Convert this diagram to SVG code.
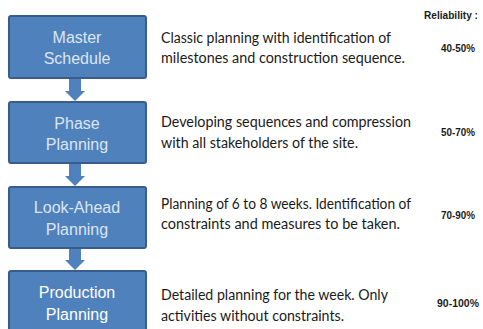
<svg xmlns="http://www.w3.org/2000/svg" width="483" height="329" viewBox="0 0 483 329">
<style>
.box{fill:#4f81bd;stroke:#385d8a;stroke-width:2}
.lbl{font-family:"Liberation Sans",Arial,sans-serif;font-size:16px;fill:#dce6f2;text-anchor:middle}
.lblw{font-family:"Liberation Sans",Arial,sans-serif;font-size:16px;fill:#ffffff;text-anchor:middle}
.desc{font-family:Lato,"Liberation Sans",sans-serif;font-size:14.5px;fill:#1a1a1a}
.pct{font-family:"Liberation Sans",Arial,sans-serif;font-size:11px;font-weight:bold;fill:#1a1a1a}
.arr{fill:#4f81bd}
</style>
<rect width="483" height="329" fill="#ffffff"/>
<g id="connectors">
<polygon class="arr" points="69,79 81,79 81,91 85,91 75,101 65,91 69,91"/>
<polygon class="arr" points="69,164 81,164 81,176 85,176 75,186 65,176 69,176"/>
<polygon class="arr" points="69,249 81,249 81,260 85,260 75,270 65,260 69,260"/>
</g>
<g id="master">
<rect class="box" x="9" y="16" width="137" height="62" rx="2"/>
<text class="lbl" x="77" y="43">Master</text>
<text class="lbl" x="77" y="64">Schedule</text>
</g>
<g id="phase">
<rect class="box" x="9" y="102" width="137" height="61" rx="2"/>
<text class="lbl" x="77" y="129">Phase</text>
<text class="lbl" x="77" y="150">Planning</text>
</g>
<g id="lookahead">
<rect class="box" x="9" y="187" width="137" height="61" rx="2"/>
<text class="lbl" x="77" y="213">Look-Ahead</text>
<text class="lbl" x="77" y="235">Planning</text>
</g>
<g id="production">
<rect class="box" x="9" y="271" width="137" height="66" rx="2"/>
<text class="lblw" x="77" y="298">Production</text>
<text class="lblw" x="77" y="320">Planning</text>
</g>
<g id="descriptions">
<text class="desc" x="161" y="43" textLength="230" lengthAdjust="spacingAndGlyphs">Classic planning with identification of</text>
<text class="desc" x="161" y="63" textLength="244" lengthAdjust="spacingAndGlyphs">milestones and construction sequence.</text>
<text class="desc" x="161" y="127" textLength="250" lengthAdjust="spacingAndGlyphs">Developing sequences and compression</text>
<text class="desc" x="161" y="148" textLength="197" lengthAdjust="spacingAndGlyphs">with all stakeholders of the site.</text>
<text class="desc" x="161" y="209" textLength="250" lengthAdjust="spacingAndGlyphs">Planning of 6 to 8 weeks. Identification of</text>
<text class="desc" x="161" y="229" textLength="239" lengthAdjust="spacingAndGlyphs">constraints and measures to be taken.</text>
<text class="desc" x="161" y="300" textLength="227" lengthAdjust="spacingAndGlyphs">Detailed planning for the week. Only</text>
<text class="desc" x="161" y="321" textLength="183" lengthAdjust="spacingAndGlyphs">activities without constraints.</text>
</g>
<g id="reliability">
<text class="pct" x="424" y="19" textLength="54" lengthAdjust="spacingAndGlyphs">Reliability :</text>
<text class="pct" x="441" y="52" textLength="34" lengthAdjust="spacingAndGlyphs">40-50%</text>
<text class="pct" x="441" y="136" textLength="34" lengthAdjust="spacingAndGlyphs">50-70%</text>
<text class="pct" x="441" y="219" textLength="34" lengthAdjust="spacingAndGlyphs">70-90%</text>
<text class="pct" x="437" y="307" textLength="42" lengthAdjust="spacingAndGlyphs">90-100%</text>
</g>
</svg>
